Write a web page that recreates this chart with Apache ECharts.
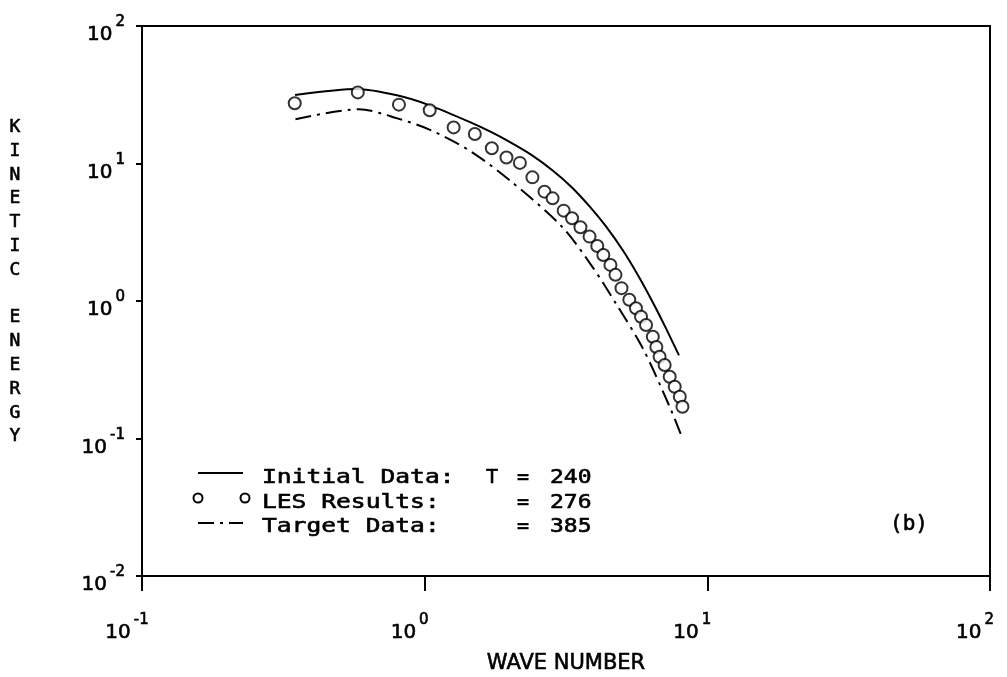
<!DOCTYPE html>
<html><head><meta charset="utf-8">
<script src="https://cdn.jsdelivr.net/npm/echarts@6/dist/echarts.min.js"></script>
<style>html,body{margin:0;padding:0;background:#fff}#c{width:1007px;height:677px}</style>
</head><body><div id="c"></div>
<script>
// LES results (circles)
const lesK = [0.347,0.580,0.811,1.042,1.266,1.505,1.728,1.947,2.172,2.405,2.654,2.835,3.103,3.322,3.557,3.831,4.080,4.287,4.541,4.732,4.970,5.296,5.591,5.826,6.070,6.414,6.601,6.778,7.063,7.359,7.666,7.991,8.164];
const lesE = [27.4,32.9,26.8,24.4,18.3,16.4,12.9,11.06,10.1,7.93,6.24,5.58,4.54,4.00,3.44,2.94,2.51,2.16,1.83,1.55,1.24,1.02,0.885,0.769,0.669,0.550,0.463,0.393,0.342,0.281,0.238,0.201,0.170];
// Initial data (solid line)
const initK = [0.348,0.576,0.805,1.036,1.447,1.702,2.004,2.378,2.844,3.320,3.845,4.380,5.030,5.684,6.424,7.142,7.939];
const initE = [31.5,34.8,31.2,26.6,20.0,17.1,14.3,11.6,8.87,6.70,4.84,3.49,2.33,1.54,0.972,0.632,0.402];
// Target data (dash-dot line)
const targetK = [0.349,0.585,0.800,1.05,1.460,2.028,3.06,3.916,4.743,5.906,7.359,8.164];
const targetE = [20.97,24.8,21.3,17.5,12.2,7.37,3.47,1.78,0.962,0.455,0.170,0.100];

const legendNames = ['Initial Data:', 'LES Results:', 'Target Data:'];
const legendT = ['240', '276', '385'];
const xAxisTitle = 'WAVE NUMBER';
const yAxisTitle = 'KINETIC ENERGY';
const panelTag = '(b)';

const zip = (a, b) => a.map((v, i) => [v, b[i]]);
const DASHDOT = [16, 6, 3, 6];
const MONO = 'DejaVu Sans Mono';
const SANS = 'DejaVu Sans';
const TB = 0.6; // slight stroke to thicken the plotter-style text

const powLabel = v => '{b|10}{e|' + Math.round(Math.log10(v)) + '}';
const richTick = {
  b: { fontSize: 20, fontFamily: SANS, color: '#000', textBorderColor: '#000', textBorderWidth: TB, padding: [10, 0, 0, 0] },
  e: { fontSize: 15, fontFamily: SANS, color: '#000', textBorderColor: '#000', textBorderWidth: TB, padding: [0, 0, 15, 3] }
};

const chart = echarts.init(document.getElementById('c'), null, { renderer: 'canvas' });

const txt = (extra) => Object.assign({ fontSize: 20, fontFamily: MONO, fill: '#000', stroke: '#000', lineWidth: TB, verticalAlign: 'middle' }, extra);
const rowY = [478, 503, 527];
const graphic = [
  { type: 'line', shape: { x1: 198, y1: 473, x2: 243, y2: 473 }, style: { stroke: '#000', lineWidth: 2 } },
  { type: 'circle', shape: { cx: 198, cy: 498, r: 4.5 }, style: { fill: '#fff', stroke: '#000', lineWidth: 2 } },
  { type: 'circle', shape: { cx: 245, cy: 498, r: 4.5 }, style: { fill: '#fff', stroke: '#000', lineWidth: 2 } },
  { type: 'line', shape: { x1: 198, y1: 523, x2: 243, y2: 523 }, style: { stroke: '#000', lineWidth: 2, lineDash: DASHDOT } },
  { type: 'text', x: 492, y: rowY[0], style: txt({ text: 'T', align: 'center' }) },
  { type: 'text', x: 909, y: 525, style: txt({ text: panelTag, fontSize: 21, align: 'center' }) },
  { type: 'text', x: 15, y: 282, style: txt({ text: yAxisTitle.split('').join('\n'), fontSize: 18, lineHeight: 23.8, align: 'center' }) }
];
legendNames.forEach((n, i) => {
  graphic.push({ type: 'text', x: 262, y: rowY[i], scaleX: 1.23, style: txt({ text: n, align: 'left' }) });
  graphic.push({ type: 'text', x: 523, y: rowY[i], style: txt({ text: '=', align: 'center' }) });
  graphic.push({ type: 'text', x: 550, y: rowY[i], scaleX: 1.15, style: txt({ text: legendT[i], align: 'left' }) });
});

const option = {
  backgroundColor: '#fff',
  animation: false,
  grid: { left: 142, top: 26, right: 17, bottom: 101, containLabel: false, outerBoundsMode: 'none',
    show: true, borderColor: '#000', borderWidth: 2, backgroundColor: 'transparent' },
  xAxis: {
    type: 'log', logBase: 10, min: 0.1, max: 100, splitNumber: 3,
    name: xAxisTitle, nameLocation: 'middle', nameGap: 88,
    nameTextStyle: { fontSize: 21, fontFamily: SANS, color: '#000', textBorderColor: '#000', textBorderWidth: TB, verticalAlign: 'middle' },
    axisLine: { show: true, onZero: false, lineStyle: { color: '#000', width: 2 } },
    axisTick: { show: true, length: 15, inside: false, lineStyle: { color: '#000', width: 2 } },
    minorTick: { show: false },
    splitLine: { show: false },
    axisLabel: { show: true, margin: 37, formatter: powLabel, rich: richTick, padding: [0, 30, 0, 0], showMinLabel: true, showMaxLabel: true }
  },
  yAxis: {
    type: 'log', logBase: 10, min: 0.01, max: 100, splitNumber: 4,
    axisLine: { show: true, onZero: false, lineStyle: { color: '#000', width: 2 } },
    axisTick: { show: true, length: 6, inside: false, lineStyle: { color: '#000', width: 2 } },
    minorTick: { show: false },
    splitLine: { show: false },
    axisLabel: { show: true, margin: 17, formatter: powLabel, rich: richTick, padding: [8, 0, 0, 0], showMinLabel: true, showMaxLabel: true }
  },
  series: [
    { name: 'Initial Data', type: 'line', data: zip(initK, initE), showSymbol: false, smooth: 0.25,
      lineStyle: { color: '#000', width: 2 }, z: 2 },
    { name: 'Target Data', type: 'line', data: zip(targetK, targetE), showSymbol: false, smooth: 0.3,
      lineStyle: { color: '#000', width: 2, type: DASHDOT }, z: 2 },
    { name: 'LES Results', type: 'scatter', data: zip(lesK, lesE), symbol: 'emptyCircle', symbolSize: 12,
      itemStyle: { color: '#000', borderColor: '#000', borderWidth: 2 }, z: 3 }
  ],
  graphic: graphic
};
chart.setOption(option);
</script>
</body></html>
